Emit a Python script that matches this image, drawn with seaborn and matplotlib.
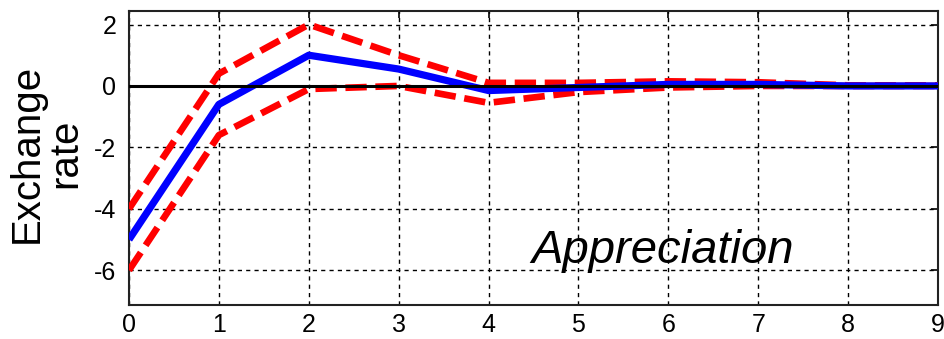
import matplotlib
matplotlib.use("Agg")
import matplotlib.pyplot as plt
import seaborn as sns
import pandas as pd

# ---- data ----
horizon = [0, 1, 2, 3, 4, 5, 6, 7, 8, 9]
median = [-5.0, -0.6, 1.0, 0.55, -0.15, -0.05, 0.05, 0.05, 0.0, 0.0]
upper = [-4.0, 0.4, 2.0, 1.0, 0.1, 0.1, 0.15, 0.12, 0.02, 0.02]
lower = [-6.0, -1.6, -0.1, 0.0, -0.55, -0.2, -0.05, 0.0, 0.0, 0.0]
x_ticks = [0, 1, 2, 3, 4, 5, 6, 7, 8, 9]
y_ticks = [-6, -4, -2, 0, 2]
y_label = "Exchange\nrate"
annotation = "Appreciation"

sns.set_style("white")
plt.rcParams['font.family'] = ['Liberation Sans', 'DejaVu Sans']
plt.rcParams['text.color'] = 'black'
plt.rcParams['axes.labelcolor'] = 'black'

df = pd.DataFrame({"h": horizon, "median": median, "upper": upper, "lower": lower})

fig = plt.figure(figsize=(9.45, 3.39), dpi=100)
ax = fig.add_axes([0.1365, 0.1003, 0.8561, 0.8673])

# grid
ax.grid(True, color="black", linestyle=(0, (3, 3)), linewidth=1.0, zorder=0)
ax.set_axisbelow(True)

# bands (red dashed)
for col in ["upper", "lower"]:
    sns.lineplot(data=df, x="h", y=col, ax=ax, color="#ff0000", linewidth=4.8,
                 dashes=False, zorder=3, errorbar=None)
    ax.lines[-1].set_linestyle((0, (3.2, 1.3)))
# median (blue solid)
sns.lineplot(data=df, x="h", y="median", ax=ax, color="#0000ff", linewidth=5.2,
             zorder=4, errorbar=None)
ax.lines[-1].set_solid_capstyle("butt")

# zero line
ax.axhline(0, color="black", linewidth=2.2, zorder=5)

ax.set_xlim(0, 9)
ax.set_ylim(-7.13, 2.44)
ax.set_xticks(x_ticks)
ax.set_yticks(y_ticks)
ax.set_xticklabels([str(t) for t in x_ticks])
ax.set_yticklabels([str(t) for t in y_ticks])
ax.tick_params(axis="both", direction="in", top=True, right=True, length=5,
               width=1.2, color="black", labelsize=18, labelcolor="black")
ax.tick_params(axis="x", pad=6)
ax.tick_params(axis="y", pad=9)
for lab in ax.get_xticklabels() + ax.get_yticklabels():
    lab.set_fontfamily(['Liberation Sans Narrow', 'Liberation Sans', 'DejaVu Sans'])

for sp in ax.spines.values():
    sp.set_color("#222222")
    sp.set_linewidth(1.5)
    sp.set_visible(True)

ax.set_xlabel("")
ax.set_ylabel(y_label, fontsize=29, linespacing=1.0, va="center", ha="center")
ax.yaxis.set_label_coords(-0.1026, 0.517)

ax.text(5.94, -5.77, annotation, fontsize=34, style="italic", ha="center",
        va="baseline", color="black", zorder=6)

fig.savefig("out.png", dpi=100)
